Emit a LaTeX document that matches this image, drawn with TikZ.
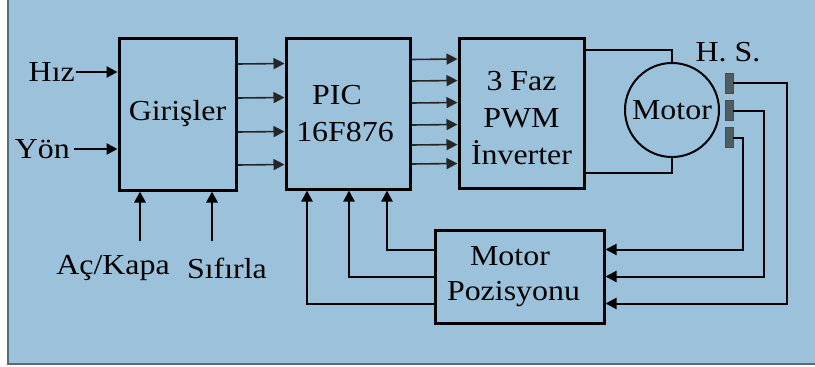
\documentclass[tikz,border=0pt]{standalone}
\usepackage{fontspec}
\setmainfont{Liberation Serif}[FakeStretch=1.1]
\usetikzlibrary{arrows.meta}
\definecolor{bgblue}{RGB}{156,194,219}
\definecolor{framegray}{RGB}{88,108,120}
\definecolor{sensor}{RGB}{78,92,102}
\begin{document}
\begin{tikzpicture}[x=1pt,y=-1pt,
  blk/.style={draw=black,line width=3pt,inner sep=0pt,align=center,font=\fontsize{29}{38}\selectfont},
  lbl/.style={inner sep=1pt,font=\fontsize{29}{34}\selectfont},
  arr/.style={-{Triangle[length=11pt,width=11pt]}},
  thick3/.style={line width=2.6pt},
  thin2/.style={line width=1.6pt,draw=black!85},
  mid2/.style={line width=2pt}]
\useasboundingbox (0,0) rectangle (815,367);
\fill[bgblue] (7,-5) rectangle (820,364);
\draw[framegray,line width=2pt] (7.5,-5) -- (7.5,363.5) -- (820,363.5);
% blocks
\node[blk,minimum width=117pt,minimum height=152pt] (giris) at (177.5,114) {Girişler};
\node[blk,minimum width=124pt,minimum height=151pt] (pic) at (348,113.5) {\hspace*{-22pt}PIC\\[-1pt]\hspace*{-6pt}16F876};
\node[blk,minimum width=125pt,minimum height=150pt,
  label={[name=invtext,align=center,inner sep=0pt,font=\fontsize{29}{38}\selectfont,yshift=-5pt]center:{3 Faz\\[-1pt]PWM\\[-1pt]İnverter}}] (inv) at (521.5,113) {};
\node[blk,minimum width=169pt,minimum height=93pt,font=\fontsize{29}{35}\selectfont] (pos) at (519.5,276.5) {\hspace*{-19pt}Motor\\\hspace*{-12pt}Pozisyonu};
\node[circle,draw=black,line width=2pt,minimum size=94pt,inner sep=0pt,font=\fontsize{29}{34}\selectfont] (m) at (672,110) {Motor};
% sensors
\node[lbl] (hs) at (728,52) {H. S.};
\node[fill=sensor,draw=black!70,line width=0.8pt,minimum width=8pt,minimum height=20pt,inner sep=0pt] (s1) at (729,83) {};
\node[fill=sensor,draw=black!70,line width=0.8pt,minimum width=8pt,minimum height=20pt,inner sep=0pt] (s2) at (729,110.5) {};
\node[fill=sensor,draw=black!70,line width=0.8pt,minimum width=8pt,minimum height=20pt,inner sep=0pt] (s3) at (729,137.5) {};
% input labels
\node[lbl,anchor=east] (hiz) at (76,72) {Hız};
\node[lbl,anchor=east,inner sep=4pt] (yon) at (74,149) {Yön};
\node[lbl] (ac) at (113,268) {Aç/Kapa};
\node[lbl] (sif) at (227,268) {Sıfırla};
\coordinate (acs) at (140,241);
\coordinate (sifs) at (212,241);
% input arrows
\draw[arr,thick3] (hiz.east) -- (hiz.east -| giris.west);
\draw[arr,thick3] (yon.east) -- (yon.east -| giris.west);
\draw[arr,thick3] (acs) -- (acs |- giris.south);
\draw[arr,thick3] (sifs) -- (sifs |- giris.south);
% girisler -> pic
\foreach \d in {50,16,-18,-51}
  \draw[arr,thin2] ([yshift=\d pt]giris.east) -- ([yshift=\d pt]pic.west);
% pic -> inverter
\foreach \d in {54,32.5,10.5,-11.5,-31.5,-50.5}
  \draw[arr,thin2] ([yshift=\d pt]pic.east) -- ([yshift=\d pt]inv.west);
% inverter -> motor
\draw[mid2] ([yshift=-13pt]inv.north east) -| (m.north);
\draw[mid2] ([yshift=17pt]inv.south east) -| (m.south);
% sensors -> position
\draw[arr,mid2] (s1.east) -| ([yshift=-27pt]pos.east -| 787,0) -- ([yshift=-27pt]pos.east);
\draw[arr,mid2] (s2.east) -| (pos.east -| 764,0) -- (pos.east);
\draw[arr,mid2] (s3.east) -| ([yshift=27pt]pos.east -| 743,0) -- ([yshift=27pt]pos.east);
% position -> pic
\draw[arr,mid2] ([yshift=27pt]pos.west) -| ([xshift=39pt]pic.south);
\draw[arr,mid2] (pos.west) -| ([xshift=1pt]pic.south);
\draw[arr,mid2] ([yshift=-27pt]pos.west) -| ([xshift=-41pt]pic.south);
\end{tikzpicture}
\end{document}
